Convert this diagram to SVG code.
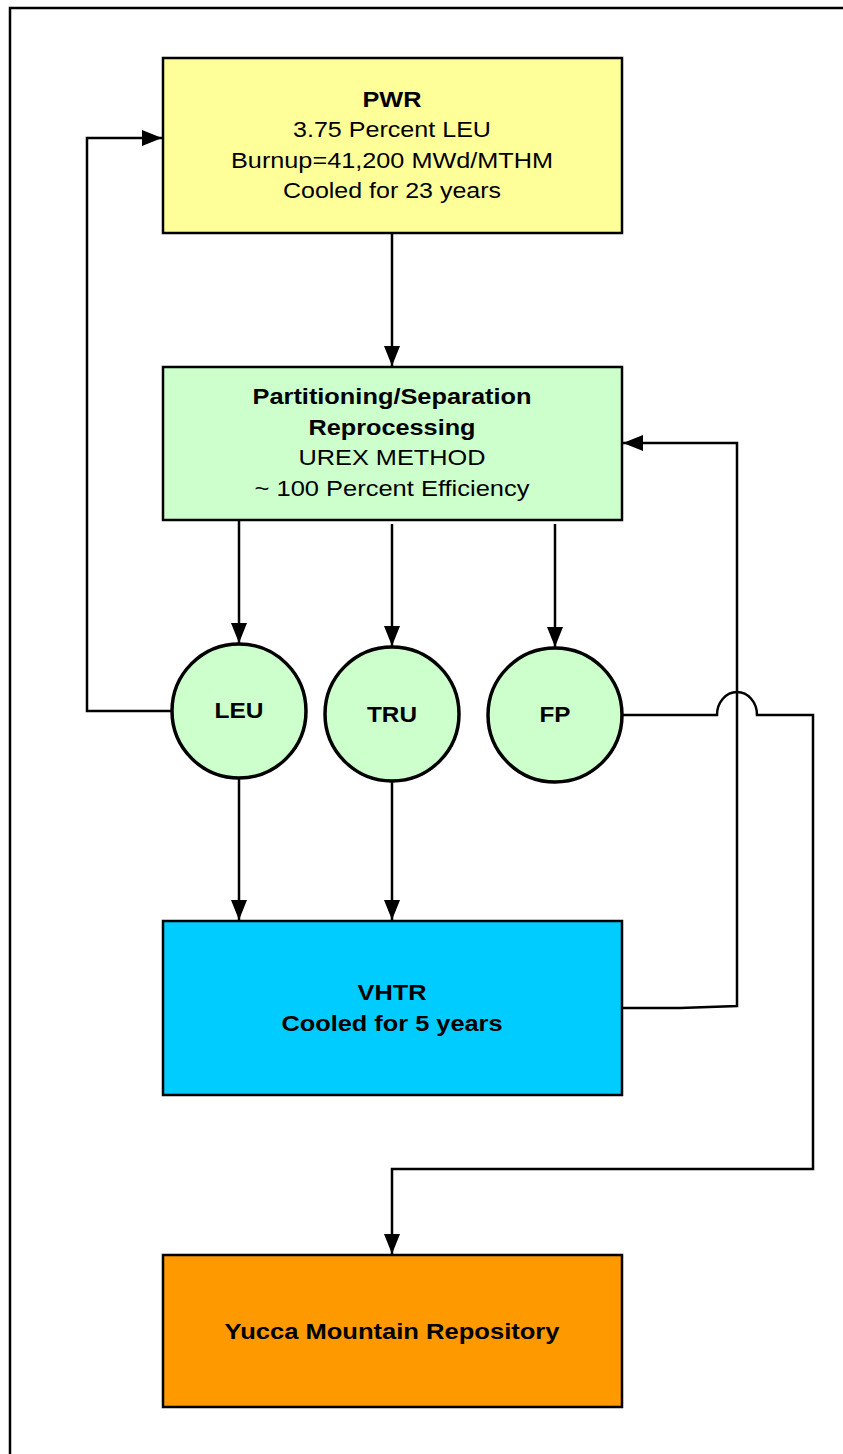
<svg xmlns="http://www.w3.org/2000/svg" width="843" height="1454" viewBox="0 0 843 1454">
<style>
.box{stroke:#000;stroke-width:2.5}
.circ{stroke:#000;stroke-width:3.5}
.c{stroke:#000;stroke-width:2.5;fill:none}
text{font-family:"Liberation Sans",Arial,sans-serif;font-size:22px;text-anchor:middle;fill:#000}
.b{font-weight:bold}
</style>
<defs>
<marker id="ah" markerUnits="userSpaceOnUse" markerWidth="20" markerHeight="16" refX="20" refY="8" orient="auto">
<path d="M0,0 L20,8 L0,16 Z" fill="#000"/>
</marker>
</defs>
<rect x="10" y="8" width="850" height="1460" fill="#fff" stroke="#000" stroke-width="2.5"/>
<g id="connectors">
<path class="c" d="M392,233 V366" marker-end="url(#ah)"/>
<path class="c" d="M239,520 V643" marker-end="url(#ah)"/>
<path class="c" d="M392,524 V646" marker-end="url(#ah)"/>
<path class="c" d="M555,524 V647" marker-end="url(#ah)"/>
<path class="c" d="M172,711 H87 V138 H162" marker-end="url(#ah)"/>
<path class="c" d="M239,778 V920" marker-end="url(#ah)"/>
<path class="c" d="M392,781 V920" marker-end="url(#ah)"/>
<path class="c" d="M622,1008 H680 L737,1006 V443 H623" marker-end="url(#ah)"/>
<path class="c" d="M622,715 H717 A20,23 0 0 1 757,715 H813 V1169 H392 V1254" marker-end="url(#ah)"/>
</g>
<g id="pwr">
<rect class="box" x="163" y="58" width="459" height="175" fill="#FFFF99"/>
<text x="392" y="107" class="b" textLength="59" lengthAdjust="spacingAndGlyphs">PWR</text>
<text x="392" y="137" textLength="198" lengthAdjust="spacingAndGlyphs">3.75 Percent LEU</text>
<text x="392" y="167.5" textLength="322" lengthAdjust="spacingAndGlyphs">Burnup=41,200 MWd/MTHM</text>
<text x="392" y="198" textLength="218" lengthAdjust="spacingAndGlyphs">Cooled for 23 years</text>
</g>
<g id="partitioning">
<rect class="box" x="163" y="367" width="459" height="153" fill="#CCFFCC"/>
<text x="392" y="404" class="b" textLength="279" lengthAdjust="spacingAndGlyphs">Partitioning/Separation</text>
<text x="392" y="435" class="b" textLength="167" lengthAdjust="spacingAndGlyphs">Reprocessing</text>
<text x="392" y="465" textLength="187" lengthAdjust="spacingAndGlyphs">UREX METHOD</text>
<text x="392" y="496" textLength="275" lengthAdjust="spacingAndGlyphs">~ 100 Percent Efficiency</text>
</g>
<g id="leu">
<circle class="circ" cx="239" cy="711" r="67" fill="#CCFFCC"/>
<text x="239" y="718" class="b" textLength="49" lengthAdjust="spacingAndGlyphs">LEU</text>
</g>
<g id="tru">
<circle class="circ" cx="392" cy="714" r="67" fill="#CCFFCC"/>
<text x="392" y="722" class="b" textLength="50" lengthAdjust="spacingAndGlyphs">TRU</text>
</g>
<g id="fp">
<circle class="circ" cx="555" cy="715" r="67" fill="#CCFFCC"/>
<text x="555" y="722" class="b" textLength="31" lengthAdjust="spacingAndGlyphs">FP</text>
</g>
<g id="vhtr">
<rect class="box" x="163" y="921" width="459" height="174" fill="#00CCFF"/>
<text x="392" y="1000" class="b" textLength="69" lengthAdjust="spacingAndGlyphs">VHTR</text>
<text x="392" y="1031" class="b" textLength="221" lengthAdjust="spacingAndGlyphs">Cooled for 5 years</text>
</g>
<g id="yucca">
<rect class="box" x="163" y="1255" width="459" height="152" fill="#FF9900"/>
<text x="392" y="1339" class="b" textLength="335" lengthAdjust="spacingAndGlyphs">Yucca Mountain Repository</text>
</g>
</svg>
